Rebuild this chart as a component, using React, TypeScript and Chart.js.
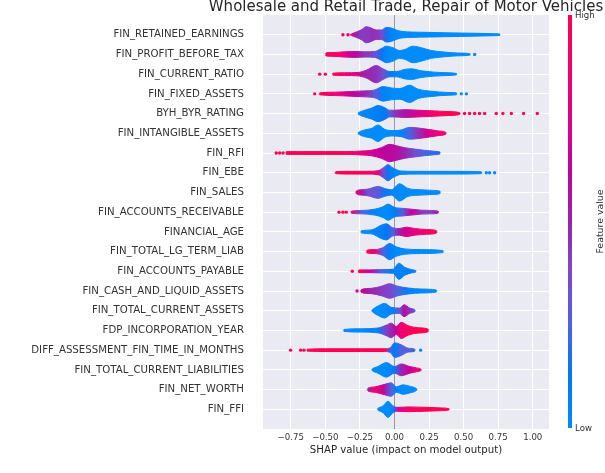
import React, { useEffect, useRef } from 'react';
import { Chart, registerables } from 'chart.js';

Chart.register(...registerables);

const TITLE = 'Wholesale and Retail Trade, Repair of Motor Vehicles';
const X_LABEL = 'SHAP value (impact on model output)';
const X_TICKS = [-0.75, -0.5, -0.25, 0, 0.25, 0.5, 0.75, 1.0];
const X_MIN = -0.951;
const X_MAX = 1.1175;

// Features, top to bottom
const FEATURES = [
  'FIN_RETAINED_EARNINGS',
  'FIN_PROFIT_BEFORE_TAX',
  'FIN_CURRENT_RATIO',
  'FIN_FIXED_ASSETS',
  'BYH_BYR_RATING',
  'FIN_INTANGIBLE_ASSETS',
  'FIN_RFI',
  'FIN_EBE',
  'FIN_SALES',
  'FIN_ACCOUNTS_RECEIVABLE',
  'FINANCIAL_AGE',
  'FIN_TOTAL_LG_TERM_LIAB',
  'FIN_ACCOUNTS_PAYABLE',
  'FIN_CASH_AND_LIQUID_ASSETS',
  'FIN_TOTAL_CURRENT_ASSETS',
  'FDP_INCORPORATION_YEAR',
  'DIFF_ASSESSMENT_FIN_TIME_IN_MONTHS',
  'FIN_TOTAL_CURRENT_LIABILITIES',
  'FIN_NET_WORTH',
  'FIN_FFI',
];

// Swarm density profiles: [SHAP value, half thickness (row units), feature value 0..1]
const pRetainedEarnings = [
  [-0.32, 0.01, 0.75], [-0.31, 0.04, 0.7], [-0.276, 0.14, 0.5], [-0.24, 0.25, 0.42],
  [-0.204, 0.41, 0.42], [-0.168, 0.34, 0.45], [-0.131, 0.24, 0.45], [-0.095, 0.24, 0.38],
  [-0.059, 0.37, 0.15], [-0.023, 0.34, 0.05], [0.013, 0.24, 0.02], [0.049, 0.17, 0],
  [0.122, 0.135, 0], [0.242, 0.12, 0], [0.363, 0.1, 0], [0.483, 0.085, 0],
  [0.604, 0.07, 0], [0.724, 0.05, 0], [0.761, 0.035, 0], [0.765, 0.01, 0],
];
const pProfitBeforeTax = [
  [-0.5, 0.02, 1], [-0.493, 0.085, 0.95], [-0.433, 0.1, 0.9], [-0.361, 0.135, 0.8],
  [-0.289, 0.15, 0.6], [-0.216, 0.135, 0.45], [-0.143, 0.15, 0.35], [-0.095, 0.3, 0.15],
  [-0.059, 0.42, 0.03], [-0.011, 0.34, 0], [0.037, 0.2, 0], [0.074, 0.25, 0],
  [0.134, 0.42, 0], [0.194, 0.34, 0], [0.266, 0.2, 0], [0.363, 0.12, 0],
  [0.459, 0.07, 0], [0.544, 0.04, 0], [0.55, 0.01, 0],
];
const pCurrentRatio = [
  [-0.45, 0.01, 1], [-0.445, 0.05, 1], [-0.361, 0.07, 0.9], [-0.264, 0.085, 0.7],
  [-0.204, 0.2, 0.5], [-0.131, 0.44, 0.45], [-0.083, 0.27, 0.35], [-0.035, 0.135, 0.15],
  [0.013, 0.135, 0.03], [0.074, 0.24, 0], [0.122, 0.27, 0], [0.194, 0.17, 0],
  [0.29, 0.1, 0], [0.387, 0.07, 0], [0.447, 0.035, 0], [0.452, 0.01, 0],
];
const pFixedAssets = [
  [-0.545, 0.01, 1], [-0.541, 0.05, 1], [-0.433, 0.085, 0.85], [-0.312, 0.12, 0.65],
  [-0.216, 0.15, 0.5], [-0.143, 0.2, 0.3], [-0.083, 0.37, 0.05], [-0.023, 0.3, 0],
  [0.037, 0.27, 0], [0.11, 0.44, 0], [0.17, 0.24, 0], [0.266, 0.135, 0],
  [0.387, 0.07, 0], [0.447, 0.05, 0], [0.452, 0.01, 0],
];
const pByrRating = [
  [-0.265, 0.01, 0], [-0.259, 0.05, 0], [-0.216, 0.17, 0.03], [-0.168, 0.27, 0.05],
  [-0.119, 0.41, 0.08], [-0.071, 0.3, 0.12], [-0.035, 0.17, 0.25], [0.001, 0.17, 0.45],
  [0.074, 0.2, 0.55], [0.17, 0.17, 0.72], [0.29, 0.135, 0.9], [0.387, 0.1, 1],
  [0.471, 0.05, 1], [0.476, 0.01, 1],
];
const pIntangibleAssets = [
  [-0.265, 0.01, 0], [-0.259, 0.05, 0], [-0.216, 0.17, 0], [-0.168, 0.24, 0],
  [-0.119, 0.42, 0], [-0.071, 0.2, 0], [-0.011, 0.135, 0], [0.049, 0.17, 0.05],
  [0.11, 0.3, 0.25], [0.17, 0.27, 0.45], [0.242, 0.2, 0.7], [0.315, 0.12, 0.85],
  [0.37, 0.05, 0.9], [0.375, 0.01, 0.9],
];
const pRfi = [
  [-0.786, 0.01, 1], [-0.782, 0.07, 1], [-0.674, 0.07, 1], [-0.505, 0.07, 1],
  [-0.336, 0.07, 0.95], [-0.24, 0.1, 0.8], [-0.168, 0.135, 0.7], [-0.095, 0.27, 0.62],
  [-0.035, 0.44, 0.6], [0.013, 0.37, 0.58], [0.074, 0.27, 0.5], [0.146, 0.2, 0.35],
  [0.218, 0.135, 0.25], [0.29, 0.085, 0.2], [0.327, 0.05, 0.2], [0.332, 0.01, 0.2],
];
const pEbe = [
  [-0.43, 0.01, 1], [-0.425, 0.05, 1], [-0.312, 0.07, 1], [-0.192, 0.07, 0.95],
  [-0.119, 0.1, 0.8], [-0.083, 0.24, 0.35], [-0.047, 0.41, 0.15], [-0.011, 0.24, 0.05],
  [0.049, 0.085, 0], [0.17, 0.07, 0], [0.411, 0.07, 0], [0.628, 0.05, 0], [0.633, 0.01, 0],
];
const pSales = [
  [-0.28, 0.01, 0.9], [-0.276, 0.07, 0.9], [-0.24, 0.135, 0.55], [-0.192, 0.17, 0.35],
  [-0.119, 0.3, 0.3], [-0.071, 0.2, 0.15], [-0.023, 0.135, 0.05], [0.037, 0.44, 0],
  [0.098, 0.2, 0], [0.194, 0.135, 0], [0.29, 0.1, 0], [0.327, 0.07, 0], [0.332, 0.01, 0],
];
const pAccountsReceivable = [
  [-0.316, 0.01, 0.85], [-0.312, 0.05, 0.85], [-0.24, 0.085, 0.25], [-0.143, 0.15, 0.03],
  [-0.083, 0.27, 0], [-0.047, 0.41, 0], [0.001, 0.24, 0.08], [0.062, 0.19, 0.3],
  [0.122, 0.15, 0.65], [0.194, 0.1, 0.45], [0.266, 0.085, 0.4], [0.315, 0.05, 0.55],
  [0.32, 0.01, 0.55],
];
const pFinancialAge = [
  [-0.245, 0.01, 0], [-0.24, 0.05, 0], [-0.168, 0.1, 0.03], [-0.095, 0.34, 0.08],
  [-0.059, 0.41, 0.12], [-0.011, 0.2, 0.25], [0.037, 0.17, 0.55], [0.086, 0.24, 0.7],
  [0.146, 0.17, 0.8], [0.23, 0.12, 0.9], [0.302, 0.07, 1], [0.307, 0.01, 1],
];
const pLgTermLiab = [
  [-0.203, 0.01, 1], [-0.199, 0.07, 1], [-0.143, 0.1, 0.85], [-0.083, 0.2, 0.25],
  [-0.035, 0.41, 0.08], [0.013, 0.24, 0], [0.074, 0.135, 0], [0.194, 0.1, 0],
  [0.35, 0.05, 0], [0.355, 0.01, 0],
];
const pAccountsPayable = [
  [-0.263, 0.01, 1], [-0.259, 0.07, 1], [-0.18, 0.07, 0.65], [-0.095, 0.085, 0.25],
  [-0.011, 0.1, 0.08], [0.032, 0.41, 0.04], [0.074, 0.2, 0.08], [0.122, 0.085, 0.08],
  [0.153, 0.035, 0], [0.157, 0.01, 0],
];
const pCashLiquidAssets = [
  [-0.245, 0.01, 0.7], [-0.24, 0.07, 0.65], [-0.168, 0.135, 0.5], [-0.095, 0.24, 0.42],
  [-0.035, 0.37, 0.38], [0.025, 0.24, 0.25], [0.098, 0.15, 0.08], [0.194, 0.1, 0],
  [0.302, 0.05, 0], [0.307, 0.01, 0],
];
const pTotalCurrentAssets = [
  [-0.165, 0.01, 0], [-0.16, 0.05, 0], [-0.119, 0.24, 0], [-0.071, 0.37, 0],
  [-0.023, 0.17, 0.05], [0.037, 0.135, 0.3], [0.069, 0.3, 0.6], [0.11, 0.135, 0.45],
  [0.146, 0.05, 0.3], [0.151, 0.01, 0.3],
];
const pIncorporationYear = [
  [-0.37, 0.01, 0], [-0.365, 0.05, 0], [-0.24, 0.085, 0], [-0.119, 0.12, 0.1],
  [-0.059, 0.27, 0.4], [-0.023, 0.37, 0.48], [0.013, 0.2, 0.65], [0.049, 0.41, 0.85],
  [0.098, 0.24, 0.95], [0.17, 0.135, 1], [0.242, 0.07, 1], [0.247, 0.01, 1],
];
const pDiffAssessment = [
  [-0.635, 0.01, 1], [-0.63, 0.05, 1], [-0.481, 0.07, 1], [-0.24, 0.07, 1],
  [-0.071, 0.07, 1], [-0.028, 0.135, 0.2], [0.001, 0.37, 0.1], [0.049, 0.27, 0.25],
  [0.098, 0.1, 0.3], [0.146, 0.05, 0.2], [0.15, 0.01, 0.2],
];
const pCurrentLiabilities = [
  [-0.165, 0.01, 0], [-0.16, 0.05, 0], [-0.119, 0.17, 0], [-0.059, 0.37, 0],
  [0.001, 0.17, 0.15], [0.049, 0.3, 0.5], [0.11, 0.17, 0.65], [0.158, 0.1, 0.8],
  [0.189, 0.05, 0.9], [0.194, 0.01, 0.9],
];
const pNetWorth = [
  [-0.197, 0.01, 0.5], [-0.192, 0.07, 0.5], [-0.143, 0.135, 0.9], [-0.083, 0.24, 0.65],
  [-0.023, 0.34, 0.25], [0.013, 0.135, 0.05], [0.062, 0.24, 0], [0.11, 0.17, 0],
  [0.158, 0.05, 0], [0.163, 0.01, 0],
];
const pFfi = [
  [-0.124, 0.01, 0], [-0.119, 0.05, 0], [-0.083, 0.17, 0], [-0.047, 0.41, 0],
  [-0.011, 0.17, 0.05], [0.025, 0.1, 0.7], [0.098, 0.12, 0.9], [0.218, 0.1, 1],
  [0.339, 0.07, 1], [0.392, 0.035, 1], [0.397, 0.01, 1],
];

// Isolated dots: [SHAP value, feature value]
const oRetainedEarnings = [[-0.373, 0.95], [-0.336, 0.95]];
const oProfitBeforeTax = [[0.58, 0]];
const oCurrentRatio = [[-0.541, 1], [-0.5, 1]];
const oFixedAssets = [[-0.577, 1], [0.483, 0], [0.52, 0]];
const oByrRating = [[0.507, 1], [0.543, 1], [0.58, 1], [0.615, 1], [0.652, 1], [0.736, 1], [0.784, 1], [0.845, 1], [0.934, 1], [1.033, 1]];
const oRfi = [[-0.855, 1], [-0.83, 1], [-0.806, 1]];
const oEbe = [[0.664, 0], [0.688, 0], [0.724, 0]];
const oAccountsReceivable = [[-0.401, 1], [-0.373, 1], [-0.349, 1]];
const oAccountsPayable = [[-0.305, 1]];
const oCashLiquidAssets = [[-0.271, 0.8]];
const oDiffAssessment = [[-0.751, 1], [-0.679, 1], [-0.655, 1], [0.189, 0]];

const PROFILES = [
  pRetainedEarnings, pProfitBeforeTax, pCurrentRatio, pFixedAssets, pByrRating,
  pIntangibleAssets, pRfi, pEbe, pSales, pAccountsReceivable, pFinancialAge,
  pLgTermLiab, pAccountsPayable, pCashLiquidAssets, pTotalCurrentAssets,
  pIncorporationYear, pDiffAssessment, pCurrentLiabilities, pNetWorth, pFfi,
];
const OUTLIERS = [
  oRetainedEarnings, oProfitBeforeTax, oCurrentRatio, oFixedAssets, oByrRating,
  [], oRfi, oEbe, [], oAccountsReceivable, [], [], oAccountsPayable, oCashLiquidAssets,
  [], [], oDiffAssessment, [], [], [],
];

// SHAP red_blue colormap samples (low -> high)
const CMAP_POS = [0, 0.125, 0.25, 0.375, 0.5, 0.625, 0.75, 0.875, 1];
const CMAP_RGB = [
  [0, 139, 251], [0, 120, 243], [75, 99, 227], [125, 73, 203], [155, 35, 173],
  [194, 0, 156], [224, 0, 134], [245, 0, 108], [255, 0, 82],
];

function cmap(f: number): string {
  const t = Math.max(0, Math.min(1, f));
  let k = 0;
  while (k < CMAP_POS.length - 2 && t > CMAP_POS[k + 1]) k++;
  const a = CMAP_POS[k], b = CMAP_POS[k + 1];
  const u = (t - a) / (b - a);
  const c = CMAP_RGB[k].map((v, j) => Math.round(v + (CMAP_RGB[k + 1][j] - v) * u));
  return `rgb(${c[0]},${c[1]},${c[2]})`;
}

function gradientFor(chart: any, prof: number[][]): any {
  const { ctx, chartArea, scales } = chart;
  if (!chartArea || !scales || !scales.x) return cmap(prof[0][2]);
  const xs = scales.x;
  const x0 = xs.getPixelForValue(prof[0][0]);
  const x1 = xs.getPixelForValue(prof[prof.length - 1][0]);
  if (!isFinite(x0) || !isFinite(x1) || x1 <= x0) return cmap(prof[0][2]);
  const g = ctx.createLinearGradient(x0, 0, x1, 0);
  prof.forEach((p) => {
    const t = (xs.getPixelForValue(p[0]) - x0) / (x1 - x0);
    g.addColorStop(Math.max(0, Math.min(1, t)), cmap(p[2]));
  });
  return g;
}

function fmtTick(v: number): string {
  const s = Math.abs(v).toFixed(2);
  return v < 0 ? '\u2212' + s : s;
}

const FONT = 'DejaVu Sans';

export default function App() {
  const ref = useRef<HTMLCanvasElement>(null);

  useEffect(() => {
    const canvas = ref.current;
    if (!canvas) return;
    const n = FEATURES.length;
    const datasets: any[] = [];

    datasets.push({
      data: [{ x: 0, y: -1 }, { x: 0, y: n }],
      borderColor: '#999999',
      borderWidth: 1,
      pointRadius: 0,
      fill: false,
      order: 5,
    });

    PROFILES.forEach((prof, i) => {
      const y0 = n - 1 - i;
      const grad = (c: any) => gradientFor(c.chart, prof);
      datasets.push({
        data: prof.map((p) => ({ x: p[0], y: y0 + p[1] })),
        borderColor: grad,
        borderWidth: 1,
        pointRadius: 0,
        fill: false,
        cubicInterpolationMode: 'monotone',
        order: 0,
      });
      datasets.push({
        data: prof.map((p) => ({ x: p[0], y: y0 - p[1] })),
        borderColor: grad,
        backgroundColor: grad,
        borderWidth: 1,
        pointRadius: 0,
        fill: '-1',
        cubicInterpolationMode: 'monotone',
        order: 0,
      });
    });

    const pts: any[] = [];
    const cols: string[] = [];
    OUTLIERS.forEach((list, i) => {
      list.forEach((o) => {
        pts.push({ x: o[0], y: n - 1 - i });
        cols.push(cmap(o[1]));
      });
    });
    datasets.push({
      data: pts,
      showLine: false,
      pointRadius: 1.7,
      pointHoverRadius: 1.7,
      pointBorderWidth: 0,
      pointBackgroundColor: cols,
      pointBorderColor: cols,
      order: 0,
    });

    const bgPlugin = {
      id: 'bgPlugin',
      beforeDraw(chart: any) {
        const { ctx, chartArea } = chart;
        ctx.save();
        ctx.fillStyle = '#eaeaf2';
        ctx.fillRect(chartArea.left, chartArea.top, chartArea.right - chartArea.left, chartArea.bottom - chartArea.top);
        ctx.restore();
      },
    };

    const decorPlugin = {
      id: 'decorPlugin',
      afterDraw(chart: any) {
        const { ctx, chartArea } = chart;
        ctx.save();
        ctx.fillStyle = '#262626';
        ctx.font = `15px "${FONT}"`;
        ctx.textAlign = 'center';
        ctx.textBaseline = 'alphabetic';
        ctx.fillText(TITLE, (chartArea.left + chartArea.right) / 2, 11);

        const cbL = 568, cbW = 4;
        const cbT = chartArea.top, cbB = chartArea.bottom - 1;
        const g = ctx.createLinearGradient(0, cbB, 0, cbT);
        CMAP_POS.forEach((p) => g.addColorStop(p, cmap(p)));
        ctx.fillStyle = g;
        ctx.fillRect(cbL, cbT, cbW, cbB - cbT);

        ctx.fillStyle = '#333333';
        ctx.font = `8.6px "${FONT}"`;
        ctx.textAlign = 'left';
        ctx.textBaseline = 'middle';
        ctx.fillText('High', cbL + cbW + 3, cbT + 1);
        ctx.fillText('Low', cbL + cbW + 3, cbB + 1);

        ctx.font = `9.4px "${FONT}"`;
        ctx.translate(600.5, (cbT + cbB) / 2);
        ctx.rotate(-Math.PI / 2);
        ctx.textAlign = 'center';
        ctx.textBaseline = 'middle';
        ctx.fillText('Feature value', 0, 0);
        ctx.restore();
      },
    };

    const chart = new Chart(canvas, {
      type: 'line',
      data: { datasets },
      options: {
        responsive: false,
        animation: false,
        devicePixelRatio: 1,
        events: [],
        layout: { padding: { top: 15, right: 56, bottom: 0, left: 0 }, autoPadding: false },
        plugins: {
          legend: { display: false },
          tooltip: { enabled: false },
          title: { display: false },
        },
        scales: {
          x: {
            type: 'linear',
            min: X_MIN,
            max: X_MAX,
            afterBuildTicks: (s: any) => {
              s.ticks = X_TICKS.map((v) => ({ value: v }));
            },
            afterFit: (s: any) => {
              s.height = 44;
              s.paddingLeft = 0;
              s.paddingRight = 0;
            },
            grid: { color: '#ffffff', lineWidth: 1, drawTicks: false },
            border: { display: false },
            ticks: {
              font: { family: FONT, size: 8.6 },
              color: '#333333',
              padding: 4,
              maxRotation: 0,
              autoSkip: false,
              callback: (v: any) => fmtTick(Number(v)),
            },
            title: {
              display: true,
              text: X_LABEL,
              font: { family: FONT, size: 10.2 },
              color: '#262626',
              padding: { top: 0, bottom: 17 },
            },
          },
          y: {
            type: 'linear',
            min: -1,
            max: FEATURES.length,
            afterBuildTicks: (s: any) => {
              s.ticks = FEATURES.map((_, k) => ({ value: k }));
            },
            afterFit: (s: any) => {
              s.width = 263;
              s.paddingTop = 0;
              s.paddingBottom = 0;
            },
            grid: { color: '#ffffff', lineWidth: 1, drawTicks: false },
            border: { display: false },
            ticks: {
              font: { family: FONT, size: 10.2 },
              color: '#333333',
              padding: 19,
              autoSkip: false,
              callback: (v: any) => FEATURES[FEATURES.length - 1 - Number(v)],
            },
          },
        },
      } as any,
      plugins: [bgPlugin, decorPlugin],
    });

    return () => chart.destroy();
  }, []);

  return (
    <div style={{ position: 'fixed', left: 0, top: 0, width: 605, height: 473, background: '#ffffff' }}>
      <canvas ref={ref} width={605} height={473} style={{ display: 'block', width: 605, height: 473 }} />
    </div>
  );
}
